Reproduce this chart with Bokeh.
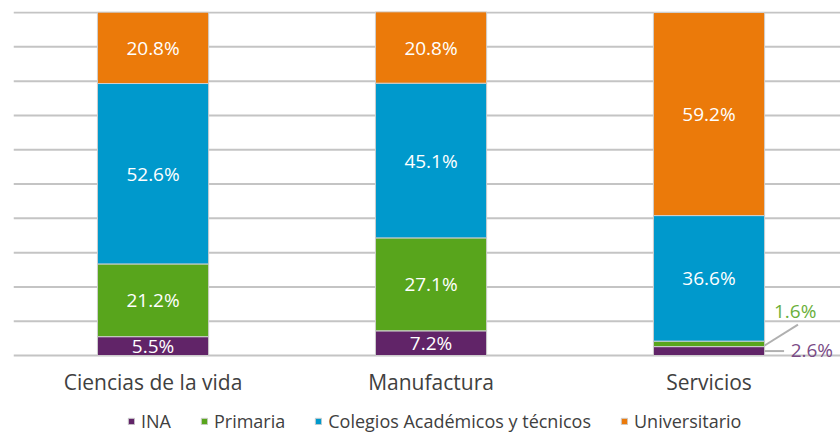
from bokeh.plotting import figure
from bokeh.models import Range1d, ColumnDataSource, Legend, LegendItem
from bokeh.embed import file_html
from bokeh.resources import INLINE
from bokeh.core.properties import value

categories = ["Ciencias de la vida", "Manufactura", "Servicios"]
series = ["INA", "Primaria", "Colegios Académicos y técnicos", "Universitario"]
ina = [5.5, 7.2, 2.6]
primaria = [21.2, 27.1, 1.6]
colegios = [52.6, 45.1, 36.6]
universitario = [20.8, 20.8, 59.2]
colors = ["#612468", "#58a51c", "#0099cc", "#eb7a0a"]
label_colors = ["#7a4b86", "#6aaf3a"]

FONT = "Open Sans"
xs = list(range(len(categories)))
bar_w = 0.4

p = figure(frame_width=827, frame_height=422, output_backend="svg", toolbar_location=None,
           x_range=Range1d(-0.502, 2.473), y_range=Range1d(-22.73, 100.3),
           x_axis_location=None, y_axis_location=None,
           min_border_left=13, min_border_right=0, min_border_top=11, min_border_bottom=0)
p.outline_line_color = None
p.border_fill_color = "white"
p.background_fill_color = "white"
p.xgrid.visible = False
p.ygrid.visible = False

# horizontal gridlines every 10 %
grid_vals = list(range(0, 101, 10))
p.segment(x0=[-0.502] * len(grid_vals), x1=[2.473] * len(grid_vals), y0=grid_vals, y1=grid_vals,
          line_color="#c4c4c4", line_width=2)

data = dict(x=xs, ina=ina, primaria=primaria, colegios=colegios, universitario=universitario)
src = ColumnDataSource(data)
keys = ["ina", "primaria", "colegios", "universitario"]
rends = p.vbar_stack(keys, x="x", width=bar_w, source=src, color=colors,
                     line_color="#cfcfcf", line_width=1)

lx, ly, lt = [], [], []
for i in xs:
    vals = [ina[i], primaria[i], colegios[i], universitario[i]]
    base = 0
    for k, v in enumerate(vals):
        if v >= 4:
            lx.append(i); ly.append(base + v / 2); lt.append(f"{v:.1f}%")
        base += v
p.text(x=lx, y=ly, text=lt, text_color="white", text_font=value(FONT),
       text_font_size="19px", text_align="center", text_baseline="middle")

i = 2
edge = i + bar_w / 2
p.segment(x0=[edge, edge], y0=[ina[i] + primaria[i] * 0.2, ina[i] / 2],
          x1=[edge + 0.12, edge + 0.07], y1=[ina[i] + primaria[i] + 4.8, ina[i] / 2],
          line_color="#b0b0b0", line_width=2)
p.text(x=[edge + 0.11], y=[ina[i] + primaria[i] + 8.9], text=[f"{primaria[i]:.1f}%"],
       text_color=label_colors[1], text_font=value(FONT), text_font_size="19px",
       text_align="center", text_baseline="middle")
p.text(x=[edge + 0.17], y=[ina[i] / 2 + 0.2], text=[f"{ina[i]:.1f}%"],
       text_color=label_colors[0], text_font=value(FONT), text_font_size="19px",
       text_align="center", text_baseline="middle")

# category labels under the bars
p.text(x=xs, y=[-7.6] * len(xs), text=categories, text_color="#404040",
       text_font=value(FONT), text_font_size="21px", text_align="center", text_baseline="middle")

legend = Legend(items=[LegendItem(label=s, renderers=[r]) for s, r in zip(series, rends)],
                orientation="horizontal", location=(114, 0),
                label_text_font=FONT, label_text_font_size="18px", label_text_color="#404040",
                glyph_width=8, glyph_height=8, label_standoff=6, spacing=29,
                border_line_color=None, background_fill_alpha=0, padding=0, margin=0)
p.add_layout(legend)

open("out.html", "w").write(file_html(p, INLINE))
